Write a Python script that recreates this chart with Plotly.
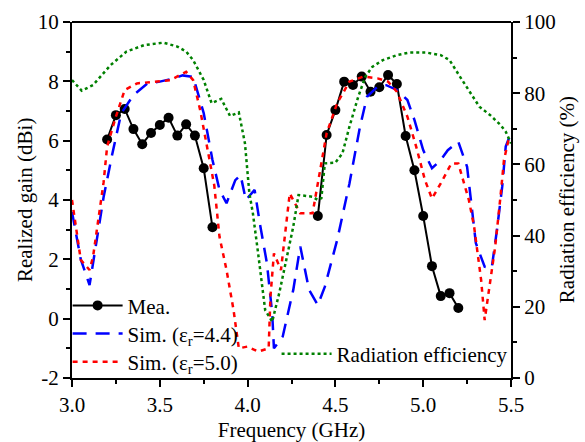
import plotly.graph_objects as go

# Measured realized gain (dBi)
mea_f = [3.2, 3.25, 3.3, 3.35, 3.4, 3.45, 3.5, 3.55, 3.6, 3.65, 3.7, 3.75, 3.8, 4.1,
         4.4, 4.45, 4.5, 4.55, 4.6, 4.65, 4.7, 4.75, 4.8, 4.85, 4.9, 4.95, 5.0, 5.05, 5.1, 5.15, 5.2]
mea_g = [6.04, 6.86, 7.07, 6.39, 5.88, 6.26, 6.53, 6.77, 6.17, 6.55, 6.17, 5.07, 3.08, None,
         3.46, 6.19, 7.03, 7.99, 7.88, 8.16, 7.65, 7.8, 8.21, 7.91, 6.16, 5.0, 3.46, 1.77, 0.76, 0.86, 0.36]

# Simulated, er = 4.4
s44_f = [3.0, 3.05, 3.1, 3.18, 3.23, 3.28, 3.35, 3.43, 3.5, 3.58, 3.63, 3.69, 3.75, 3.8, 3.84, 3.88,
         3.93, 3.96, 3.99, 4.04, 4.07, 4.11, 4.14, 4.15, 4.2, 4.26, 4.3, 4.35, 4.4, 4.44, 4.51, 4.58,
         4.64, 4.68, 4.74, 4.79, 4.85, 4.91, 4.95, 5.0, 5.05, 5.1, 5.14, 5.2, 5.25, 5.3, 5.35, 5.39,
         5.42, 5.45, 5.47, 5.5]
s44_g = [3.6, 2.0, 1.13, 4.1, 5.57, 6.92, 7.54, 7.93, 7.99, 8.1, 8.2, 8.15, 6.93, 5.35, 4.34, 3.89,
         4.67, 4.84, 4.0, 4.34, 3.2, 1.87, 0.18, -1.0, -0.6, 0.97, 2.43, 0.97, 0.46, 1.08, 2.65, 4.56,
         6.47, 7.48, 7.82, 7.87, 7.71, 7.37, 6.7, 5.68, 5.07, 5.35, 5.68, 5.96, 5.12, 2.54, 1.75, 1.7,
         2.99, 4.45, 5.8, 6.26]

# Simulated, er = 5.0
s50_f = [3.0, 3.05, 3.1, 3.12, 3.18, 3.2, 3.25, 3.3, 3.37, 3.48, 3.56, 3.65, 3.69, 3.73, 3.77, 3.81,
         3.84, 3.88, 3.92, 3.95, 4.0, 4.06, 4.12, 4.13, 4.15, 4.19, 4.24, 4.3, 4.37, 4.4, 4.45, 4.51,
         4.58, 4.66, 4.74, 4.8, 4.85, 4.91, 4.96, 5.01, 5.05, 5.1, 5.16, 5.2, 5.24, 5.26, 5.29, 5.33,
         5.35, 5.38, 5.41, 5.44, 5.46, 5.49]
s50_g = [4.0, 1.98, 1.64, 2.09, 4.6, 5.8, 6.81, 7.71, 7.93, 7.99, 8.04, 8.32, 8.04, 7.03, 5.8, 4.5,
         2.76, 1.64, 0.29, -1.0, -0.94, -1.11, -1.0, 0.74, 2.2, 1.64, 4.22, 3.55, 3.55, 4.6, 6.25, 7.26,
         7.99, 8.16, 8.1, 7.99, 7.65, 6.81, 5.8, 4.67, 4.05, 4.56, 5.23, 5.23, 4.45, 4.0, 3.1, 1.3,
         -0.05, 1.19, 2.43, 4.11, 5.35, 6.13]

# Radiation efficiency (%)
eff_f = [3.0, 3.055, 3.12, 3.22, 3.31, 3.41, 3.52, 3.6, 3.65, 3.69, 3.75, 3.795, 3.85, 3.9, 3.95,
         3.985, 4.01, 4.03, 4.06, 4.1, 4.14, 4.18, 4.26, 4.29, 4.37, 4.4, 4.42, 4.44, 4.5, 4.54, 4.58,
         4.63, 4.67, 4.71, 4.77, 4.85, 4.92, 5.02, 5.1, 5.15, 5.21, 5.27, 5.32, 5.38, 5.44, 5.47, 5.5]
eff_v = [83.7, 80.7, 82.3, 87.9, 91.7, 93.5, 94.2, 93.1, 91.7, 89.3, 83.7, 77.2, 78.4, 73.6, 74.6,
         65.9, 51.9, 46.3, 35.0, 19.1, 15.8, 23.8, 42.5, 51.4, 50.9, 50.0, 50.5, 60.3, 60.5, 63.1, 70.6,
         79.0, 84.6, 87.4, 89.3, 90.7, 91.4, 91.4, 90.7, 89.3, 84.6, 80.0, 76.2, 73.9, 71.1, 69.2, 65.9]

gain_ticks = [-2, 0, 2, 4, 6, 8, 10]
gain_ticktext = ["-2", "0", "2", "4", "6", "8", "10"]
freq_ticks = [3.0, 3.5, 4.0, 4.5, 5.0, 5.5]
freq_ticktext = ["3.0", "3.5", "4.0", "4.5", "5.0", "5.5"]
eff_ticks = [0, 20, 40, 60, 80, 100]

FONT = "'Liberation Serif', 'DejaVu Serif', serif"
FS = 21

fig = go.Figure()
fig.add_trace(go.Scatter(x=mea_f, y=mea_g, mode="lines+markers", name="Mea.",
                         line=dict(color="black", width=2), marker=dict(color="black", size=10),
                         connectgaps=False, legend="legend"))
fig.add_trace(go.Scatter(x=s44_f, y=s44_g, mode="lines", name="Sim. (ε<sub>r</sub>=4.4)",
                         line=dict(color="#0000FF", width=2.5, dash="14px,9px"), legend="legend3"))
fig.add_trace(go.Scatter(x=s50_f, y=s50_g, mode="lines", name="Sim. (ε<sub>r</sub>=5.0)",
                         line=dict(color="#FF0000", width=2.5, dash="5px,5px"), legend="legend4"))
fig.add_trace(go.Scatter(x=eff_f, y=eff_v, mode="lines", name="Radiation efficiency", yaxis="y2",
                         line=dict(color="#008000", width=2.5, dash="3px,3px"), legend="legend2"))

axis_common = dict(showline=True, linecolor="black", linewidth=2, ticks="outside", ticklen=7,
                   tickwidth=2, tickcolor="black", showgrid=False, zeroline=False, automargin=False,
                   tickfont=dict(family=FONT, size=FS, color="black"))

def leg(x, y):
    return dict(x=x, y=y, xanchor="left", yanchor="middle", bgcolor="rgba(0,0,0,0)",
                font=dict(family=FONT, size=FS), itemwidth=50)

fig.update_layout(
    width=585, height=442,
    margin=dict(l=72, r=74, t=22, b=64),
    paper_bgcolor="white", plot_bgcolor="white",
    font=dict(family=FONT, size=FS, color="black"),
    xaxis=dict(range=[3.0, 5.5], tickvals=freq_ticks, ticktext=freq_ticktext, mirror=False,
               minor=dict(ticks="outside", ticklen=4, tickwidth=2, dtick=0.25, tick0=3.0, tickcolor="black"),
               title=dict(text="Frequency (GHz)", font=dict(family=FONT, size=FS)),
               **axis_common),
    yaxis=dict(range=[-2, 10], tickvals=gain_ticks, ticktext=gain_ticktext,
               minor=dict(ticks="outside", ticklen=4, tickwidth=2, dtick=1, tick0=0, tickcolor="black"),
               **axis_common),
    yaxis2=dict(range=[0, 100], tickvals=eff_ticks, overlaying="y", side="right",
                minor=dict(ticks="outside", ticklen=4, tickwidth=2, dtick=10, tick0=0, tickcolor="black"),
                **axis_common),
    legend=leg(-0.01, 0.203),
    legend3=leg(-0.01, 0.124),
    legend4=leg(-0.01, 0.045),
    legend2=leg(0.466, 0.067),
    showlegend=True,
)
# axis titles
fig.add_annotation(text="Realized gain (dBi)", xref="paper", yref="paper", x=-0.107, y=0.5,
                   textangle=-90, showarrow=False, xanchor="center", yanchor="middle",
                   font=dict(family=FONT, size=FS, color="black"))
fig.add_annotation(text="Radiation efficiency (%)", xref="paper", yref="paper", x=1.128, y=0.5,
                   textangle=-90, showarrow=False, xanchor="center", yanchor="middle",
                   font=dict(family=FONT, size=FS, color="black"))
# top border line
fig.add_shape(type="line", xref="paper", yref="paper", x0=0, x1=1, y0=1, y1=1,
              line=dict(color="black", width=2))

fig.write_html("out.html")
